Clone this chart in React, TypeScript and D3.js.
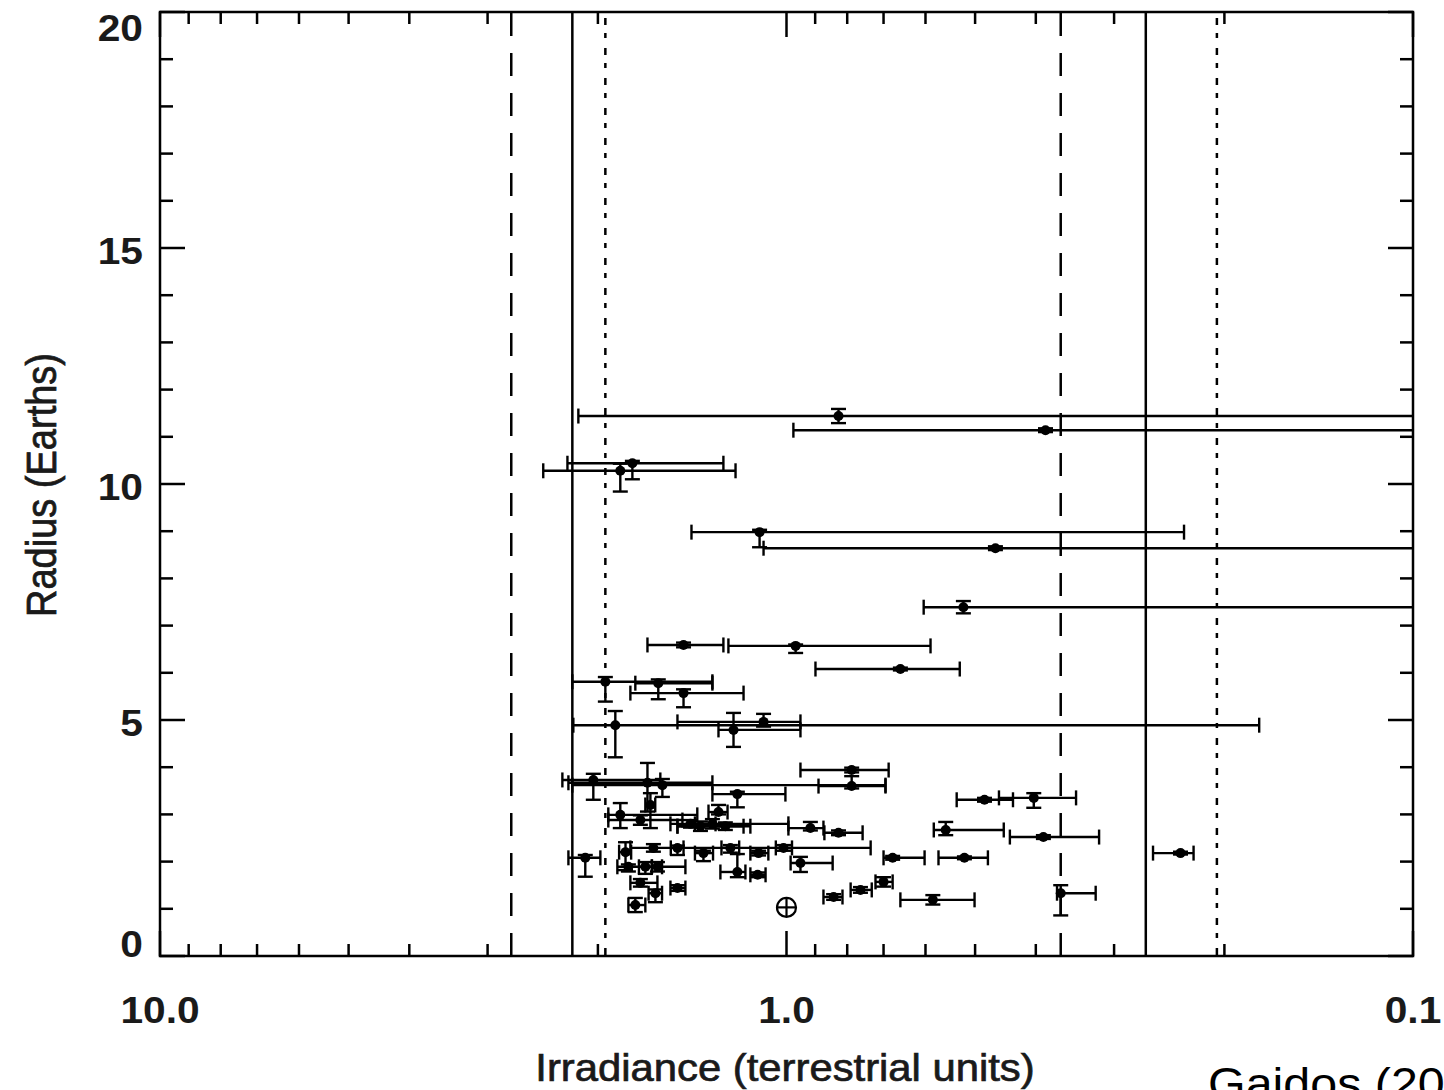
import React from 'react';
import * as d3 from 'd3';

// ---- data (irradiance in terrestrial units, radius in Earth radii) ----
const irradiance = [0.826, 0.386, 1.762, 1.842, 1.104, 0.464, 0.522, 1.46, 0.967, 0.658,
  1.946, 1.602, 1.46, 1.876, 1.215, 1.088, 2.034, 1.667, 1.578, 1.198,
  0.787, 0.787, 0.483, 0.403, 1.842, 1.649, 1.711, 1.284, 1.372, 1.313,
  1.252, 1.423, 0.916, 0.826, 0.557, 0.389, 2.095, 1.807, 1.631, 1.493,
  1.357, 1.229, 1.108, 1.011, 0.95, 0.677, 0.52, 0.235, 1.788, 1.68,
  1.607, 1.198, 1.112, 1.711, 1.619, 1.493, 1.743, 0.7, 0.762, 0.841,
  0.584, 0.365];
const radius = [11.44, 11.14, 10.44, 10.28, 8.98, 8.64, 7.39, 6.59, 6.57, 6.08,
  5.81, 5.78, 5.57, 4.89, 4.79, 4.96, 3.73, 3.67, 3.62, 3.43,
  3.94, 3.6, 3.31, 3.35, 2.99, 3.2, 2.88, 3.05, 2.75, 2.8,
  2.75, 2.8, 2.71, 2.61, 2.67, 2.52, 2.08, 2.2, 2.29, 2.29,
  2.18, 2.29, 2.18, 2.29, 1.97, 2.08, 2.08, 2.18, 1.89, 1.89,
  1.89, 1.78, 1.72, 1.55, 1.33, 1.44, 1.08, 1.57, 1.4, 1.25,
  1.19, 1.33];
// upper / lower ends of the irradiance error bars
const irrHigh = [2.149, 0.975, 2.237, 2.445, 1.418, 1.088, 0.604, 1.667, 1.238, 0.899,
  2.197, 1.743, 1.775, 2.189, 1.284, 1.493, 2.279, 2.229, 2.197, 1.313,
  0.95, 0.889, 0.535, 0.458, 1.925, 1.68, 1.925, 1.332, 1.493, 1.4,
  1.493, 1.532, 0.993, 0.87, 0.582, 0.44, 2.229, 1.85, 1.775, 1.53,
  1.4, 1.27, 1.142, 1.04, 0.985, 0.7, 0.572, 0.26, 1.862, 1.72,
  1.64, 1.275, 1.142, 1.775, 1.66, 1.532, 1.788, 0.721, 0.79, 0.873,
  0.658, 0.37];
const irrLow = [0.05, 0.05, 1.261, 1.206, 0.232, 0.05, 0.05, 1.261, 0.589, 0.529,
  1.313, 1.313, 1.171, 0.176, 0.95, 0.95, 1.59, 1.313, 0.695, 1.004,
  0.687, 0.695, 0.435, 0.345, 1.388, 1.62, 1.466, 1.242, 1.171, 0.993,
  1.142, 1.298, 0.873, 0.756, 0.45, 0.317, 1.982, 1.77, 0.734, 1.46,
  1.31, 1.19, 1.069, 0.98, 0.844, 0.602, 0.477, 0.224, 1.45, 1.64,
  1.58, 1.163, 1.08, 1.607, 1.58, 1.45, 1.68, 0.677, 0.731, 0.814,
  0.501, 0.321];
const radErrMinus = [0.15, 0.04, 0.34, 0.44, 0.32, 0.04, 0.13, 0.05, 0.15, 0.03,
  0.42, 0.34, 0.3, 0.68, 0.36, 0.1, 0.42, 0.61, 0.25, 0.28,
  0.05, 0.05, 0.04, 0.21, 0.28, 0.49, 0.1, 0.05, 0.1, 0.1,
  0.08, 0.08, 0.05, 0.05, 0.11, 0.04, 0.4, 0.38, 0.08, 0.15,
  0.17, 0.1, 0.05, 0.06, 0.19, 0.04, 0.03, 0.03, 0.1, 0.15,
  0.1, 0.11, 0.05, 0.08, 0.19, 0.06, 0.15, 0.1, 0.06, 0.06,
  0.1, 0.47];
const radErrPlus = [0.15, 0.04, 0.05, 0.15, 0.05, 0.04, 0.13, 0.05, 0.03, 0.03,
  0.1, 0.08, 0.08, 0.3, 0.36, 0.17, 0.13, 0.42, 0.13, 0.05,
  0.05, 0.21, 0.04, 0.1, 0.25, 0.25, 0.1, 0.15, 0.1, 0.1,
  0.08, 0.08, 0.13, 0.05, 0.17, 0.04, 0.06, 0.21, 0.08, 0.05,
  0.05, 0.06, 0.05, 0.06, 0.13, 0.04, 0.03, 0.03, 0.05, 0.1,
  0.1, 0.38, 0.05, 0.08, 0.08, 0.06, 0.15, 0.1, 0.06, 0.06,
  0.1, 0.17];

const earth = { irradiance: 1.0, radius: 1.03 };

const dashedLines = [2.75, 0.365];
const solidLines = [2.197, 0.267];
const dottedLines = [1.946, 0.2056];

const yTickValues = [0, 5, 10, 15, 20];
const yTickLabels = ['0', '5', '10', '15', '20'];
const xTickValues = [10, 1, 0.1];
const xTickLabels = ['10.0', '1.0', '0.1'];

const xTitle = 'Irradiance (terrestrial units)';
const yTitle = 'Radius (Earths)';
const credit = 'Gaidos (2013)';

const FONT = '"Liberation Sans", Arial, Helvetica, sans-serif';

export default function App() {
  const W = 1444, H = 1090;
  const left = 160, right = 1413, top = 12, bottom = 956;
  const x = d3.scaleLog().domain([10, 0.1]).range([left, right]);
  const y = d3.scaleLinear().domain([0, 20]).range([bottom, top]);

  const xMinor = x.ticks().filter(v => Math.abs(Math.log10(v) - Math.round(Math.log10(v))) > 1e-6);
  const yMinor = d3.range(0, 21, 1).filter(v => v % 5 !== 0);

  const majorLen = 25, minorLen = 12;
  const cap = 7.5, sw = 2.4;

  const lblOffset = (i: number) => (i === 0 ? 1 : i === yTickValues.length - 1 ? 29 : 16);

  return (
    <svg width={W} height={H} viewBox={`0 0 ${W} ${H}`}
      style={{ position: 'absolute', left: 0, top: 0, background: '#fff' }}
      fontFamily={FONT}>
      <defs>
        <clipPath id="plotClip">
          <rect x={left} y={top} width={right - left} height={bottom - top} />
        </clipPath>
      </defs>
      <rect x={0} y={0} width={W} height={H} fill="#fff" />

      {/* reference lines */}
      <g clipPath="url(#plotClip)" stroke="#000" strokeWidth={2.5} fill="none">
        {solidLines.map((v, i) => (
          <line key={'s' + i} x1={x(v)} x2={x(v)} y1={bottom} y2={top} />
        ))}
        {dashedLines.map((v, i) => (
          <line key={'d' + i} x1={x(v)} x2={x(v)} y1={bottom} y2={top} strokeDasharray="23 17" />
        ))}
        {dottedLines.map((v, i) => (
          <line key={'o' + i} x1={x(v)} x2={x(v)} y1={top} y2={bottom} strokeDasharray="0 6 7 8 5 4" />
        ))}
      </g>

      {/* data */}
      <g clipPath="url(#plotClip)" stroke="#000" strokeWidth={sw} fill="#000">
        {irradiance.map((v, i) => {
          const cx = x(v), cy = y(radius[i]);
          const xa = x(irrHigh[i]), xb = x(irrLow[i]);
          const ya = y(radius[i] + radErrPlus[i]), yb = y(radius[i] - radErrMinus[i]);
          return (
            <g key={i}>
              <line x1={xa} x2={xb} y1={cy} y2={cy} />
              <line x1={xa} x2={xa} y1={cy - cap} y2={cy + cap} />
              <line x1={xb} x2={xb} y1={cy - cap} y2={cy + cap} />
              <line x1={cx} x2={cx} y1={ya} y2={yb} />
              <line x1={cx - cap} x2={cx + cap} y1={ya} y2={ya} />
              <line x1={cx - cap} x2={cx + cap} y1={yb} y2={yb} />
              <circle cx={cx} cy={cy} r={5} stroke="none" />
            </g>
          );
        })}
        <g fill="none" strokeWidth={2.2}>
          <circle cx={x(earth.irradiance)} cy={y(earth.radius)} r={9.5} />
          <line x1={x(earth.irradiance) - 9.5} x2={x(earth.irradiance) + 9.5} y1={y(earth.radius)} y2={y(earth.radius)} />
          <line x1={x(earth.irradiance)} x2={x(earth.irradiance)} y1={y(earth.radius) - 9.5} y2={y(earth.radius) + 9.5} />
        </g>
      </g>

      {/* frame and ticks */}
      <g stroke="#000" strokeWidth={2.5} fill="none">
        <rect x={left} y={top} width={right - left} height={bottom - top} />
        {xTickValues.map((v, i) => (
          <g key={'xm' + i}>
            <line x1={x(v)} x2={x(v)} y1={bottom} y2={bottom - majorLen} />
            <line x1={x(v)} x2={x(v)} y1={top} y2={top + majorLen} />
          </g>
        ))}
        {xMinor.map((v, i) => (
          <g key={'xn' + i}>
            <line x1={x(v)} x2={x(v)} y1={bottom} y2={bottom - minorLen} />
            <line x1={x(v)} x2={x(v)} y1={top} y2={top + minorLen} />
          </g>
        ))}
        {yTickValues.map((v, i) => (
          <g key={'ym' + i}>
            <line x1={left} x2={left + majorLen} y1={y(v)} y2={y(v)} />
            <line x1={right} x2={right - majorLen} y1={y(v)} y2={y(v)} />
          </g>
        ))}
        {yMinor.map((v, i) => (
          <g key={'yn' + i}>
            <line x1={left} x2={left + minorLen + 1} y1={y(v)} y2={y(v)} />
            <line x1={right} x2={right - minorLen - 1} y1={y(v)} y2={y(v)} />
          </g>
        ))}
      </g>

      {/* tick labels */}
      <g fill="#1a1a1a" fontSize={37} fontWeight="bold">
        {yTickValues.map((v, i) => (
          <text key={'yl' + i} transform={`translate(143,${y(v) + lblOffset(i)}) scale(1.1,1)`} textAnchor="end">
            {yTickLabels[i]}
          </text>
        ))}
        {xTickValues.map((v, i) => (
          <text key={'xl' + i} transform={`translate(${x(v)},1023) scale(1.1,1)`} textAnchor="middle">
            {xTickLabels[i]}
          </text>
        ))}
      </g>

      {/* titles */}
      <g fill="#1a1a1a" stroke="#1a1a1a" strokeWidth={0.7} fontSize={38}>
        <text transform={`translate(785,1081) scale(1.1,1)`} textAnchor="middle">
          {xTitle}
        </text>
        <text transform={`translate(56,485) scale(1.1,1) rotate(-90)`} textAnchor="middle">
          {yTitle}
        </text>
      </g>
      <text transform={`translate(1208,1099) scale(1.1,1)`} textAnchor="start" fontSize={44} fill="#000">
        {credit}
      </text>
    </svg>
  );
}
